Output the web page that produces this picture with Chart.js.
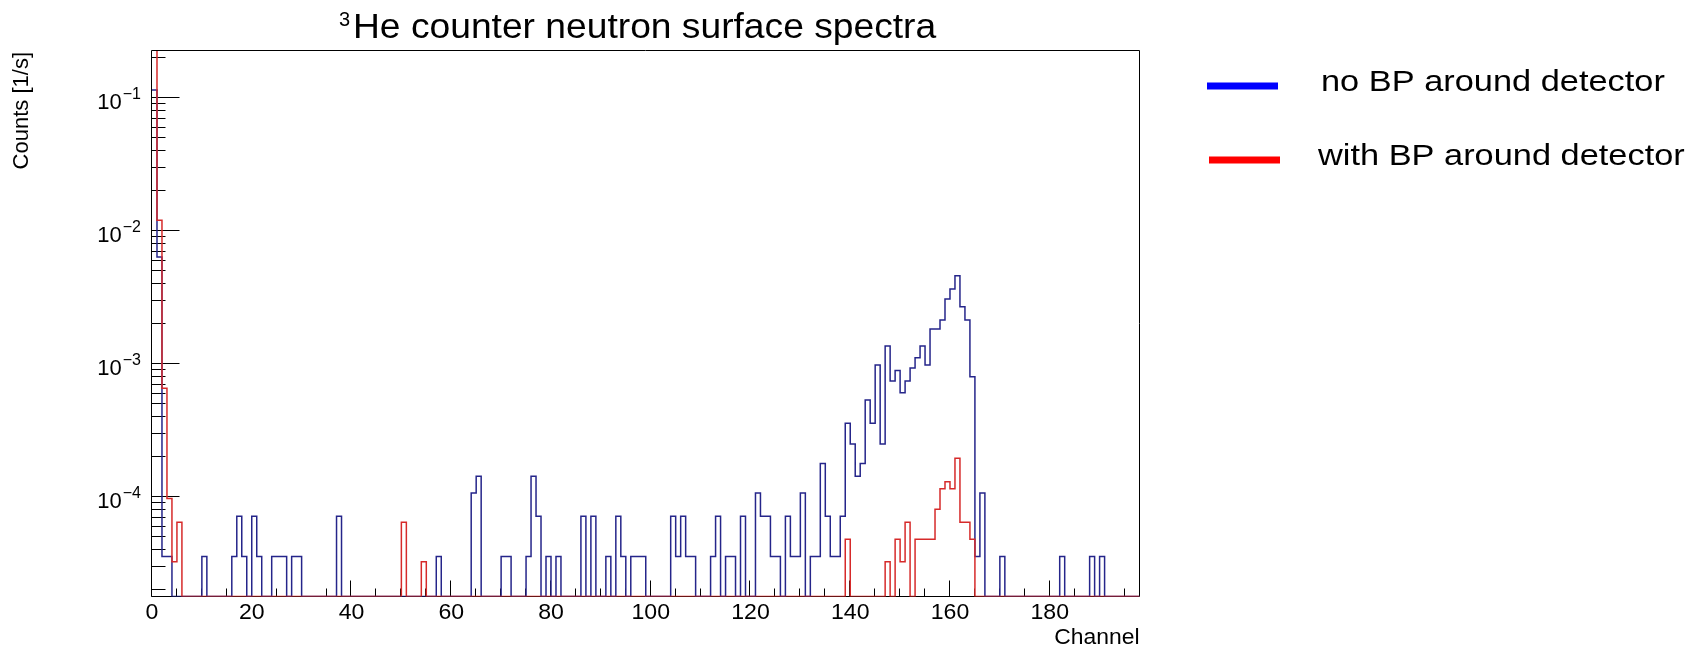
<!DOCTYPE html>
<html>
<head>
<meta charset="utf-8">
<script src="https://cdn.jsdelivr.net/npm/chart.js@4.4.1/dist/chart.umd.min.js"></script>
<style>
html,body{margin:0;padding:0;background:#ffffff;overflow:hidden}
canvas{display:block}
</style>
</head>
<body>
<canvas id="c" width="1702" height="647"></canvas>
<script>
// ---------------- DATA ----------------
// Counts [1/s] per channel bin; bin i spans channel [i, i+1]. 0 = empty bin.
const blueNoBP = [
  // 0-9
  0.115, 6.4e-3, 3.6e-5, 3.6e-5, 0, 0, 0, 0, 0, 0,
  // 10-19
  3.6e-5, 0, 0, 0, 0, 0, 3.6e-5, 7.2e-5, 3.6e-5, 0,
  // 20-29
  7.2e-5, 3.6e-5, 0, 0, 3.6e-5, 3.6e-5, 3.6e-5, 0, 3.6e-5, 3.6e-5,
  // 30-39
  0, 0, 0, 0, 0, 0, 0, 7.2e-5, 0, 0,
  // 40-49
  0, 0, 0, 0, 0, 0, 0, 0, 0, 0,
  // 50-59
  0, 0, 0, 0, 0, 0, 0, 3.6e-5, 0, 0,
  // 60-69
  0, 0, 0, 0, 1.08e-4, 1.44e-4, 0, 0, 0, 0,
  // 70-79
  3.6e-5, 3.6e-5, 0, 0, 0, 3.6e-5, 1.44e-4, 7.2e-5, 0, 3.6e-5,
  // 80-89
  0, 3.6e-5, 0, 0, 0, 0, 7.2e-5, 0, 7.2e-5, 0,
  // 90-99
  0, 3.6e-5, 0, 7.2e-5, 3.6e-5, 0, 3.6e-5, 3.6e-5, 3.6e-5, 0,
  // 100-109
  0, 0, 0, 0, 7.2e-5, 3.6e-5, 7.2e-5, 3.6e-5, 3.6e-5, 0,
  // 110-119
  0, 0, 3.6e-5, 7.2e-5, 0, 3.6e-5, 3.6e-5, 0, 7.2e-5, 0,
  // 120-129
  0, 1.08e-4, 7.2e-5, 7.2e-5, 3.6e-5, 3.6e-5, 0, 7.2e-5, 3.6e-5, 3.6e-5,
  // 130-139
  1.08e-4, 0, 3.6e-5, 3.6e-5, 1.8e-4, 7.2e-5, 3.6e-5, 3.6e-5, 7.2e-5, 3.6e-4,
  // 140-149
  2.52e-4, 1.44e-4, 1.8e-4, 5.4e-4, 3.6e-4, 9.9e-4, 2.52e-4, 1.37e-3, 7.5e-4, 9.0e-4,
  // 150-159
  6.1e-4, 7.5e-4, 9.4e-4, 1.12e-3, 1.37e-3, 9.9e-4, 1.84e-3, 1.84e-3, 2.15e-3, 3.1e-3,
  // 160-169
  3.68e-3, 4.63e-3, 2.71e-3, 2.15e-3, 8.07e-4, 3.6e-5, 1.08e-4, 0, 0, 0,
  // 170-179
  3.6e-5, 0, 0, 0, 0, 0, 0, 0, 0, 0,
  // 180-189
  0, 0, 3.6e-5, 0, 0, 0, 0, 0, 3.6e-5, 0,
  // 190-197
  3.6e-5, 0, 0, 0, 0, 0, 0, 0
];

const redWithBP = [
  // 0-9  (bin 0 runs off the top of the frame)
  0.3, 1.21e-2, 6.6e-4, 9.8e-5, 3.28e-5, 6.5e-5, 0, 0, 0, 0,
  // 10-19
  0, 0, 0, 0, 0, 0, 0, 0, 0, 0,
  // 20-29
  0, 0, 0, 0, 0, 0, 0, 0, 0, 0,
  // 30-39
  0, 0, 0, 0, 0, 0, 0, 0, 0, 0,
  // 40-49
  0, 0, 0, 0, 0, 0, 0, 0, 0, 0,
  // 50-59
  6.5e-5, 0, 0, 0, 3.28e-5, 0, 0, 0, 0, 0,
  // 60-69
  0, 0, 0, 0, 0, 0, 0, 0, 0, 0,
  // 70-79
  0, 0, 0, 0, 0, 0, 0, 0, 0, 0,
  // 80-89
  0, 0, 0, 0, 0, 0, 0, 0, 0, 0,
  // 90-99
  0, 0, 0, 0, 0, 0, 0, 0, 0, 0,
  // 100-109
  0, 0, 0, 0, 0, 0, 0, 0, 0, 0,
  // 110-119
  0, 0, 0, 0, 0, 0, 0, 0, 0, 0,
  // 120-129
  0, 0, 0, 0, 0, 0, 0, 0, 0, 0,
  // 130-139
  0, 0, 0, 0, 0, 0, 0, 0, 0, 4.84e-5,
  // 140-149
  0, 0, 0, 0, 0, 0, 0, 3.28e-5, 0, 4.84e-5,
  // 150-159
  3.28e-5, 6.5e-5, 0, 4.84e-5, 4.84e-5, 4.84e-5, 4.84e-5, 8.14e-5, 1.16e-4, 1.31e-4,
  // 160-169
  1.16e-4, 1.97e-4, 6.5e-5, 6.5e-5, 4.84e-5, 0, 0, 0, 0, 0,
  // 170-179
  0, 0, 0, 0, 0, 0, 0, 0, 0, 0,
  // 180-189
  0, 0, 0, 0, 0, 0, 0, 0, 0, 0,
  // 190-197
  0, 0, 0, 0, 0, 0, 0, 0
];

const seriesLabels = ['no BP around detector', 'with BP around detector'];
const xTickLabels = [0, 20, 40, 60, 80, 100, 120, 140, 160, 180];
const yDecadeExponents = [-4, -3, -2, -1];
const titleSup = '3';
const titleMain = 'He counter neutron surface spectra';
const xTitle = 'Channel';
const yTitle = 'Counts [1/s]';

// axis range
const X_MIN = 0, X_MAX = 198;
const Y_MIN = 1.8e-5, Y_MAX = 0.226;

// ---------------- styling ----------------
const FONT = '"Liberation Sans", Arial, Helvetica, sans-serif';
const BLUE_LINE = '#25258a';
const RED_LINE = '#d62a2a';
const BLUE_LEG = '#0000ff';
const RED_LEG = '#ff0000';

function histPoints(vals) {
  const pts = vals.map((v, i) => ({ x: i, y: v > 0 ? v : Y_MIN }));
  pts.push({ x: vals.length, y: Y_MIN });
  return pts;
}

function drawText(ctx, txt, x, y, size, align, sx) {
  ctx.save();
  ctx.font = size + 'px ' + FONT;
  ctx.textAlign = align;
  ctx.textBaseline = 'alphabetic';
  ctx.fillStyle = '#000';
  ctx.translate(x, y);
  ctx.scale(sx || 1, 1);
  ctx.fillText(txt, 0, 0);
  ctx.restore();
}

const rootAxes = {
  id: 'rootAxes',
  beforeDatasetsDraw(chart) {
    const { ctx, chartArea: a, scales } = chart;
    const xs = scales.x, ys = scales.y;
    ctx.save();
    ctx.strokeStyle = '#000';
    ctx.lineWidth = 1;
    const L = Math.round(a.left) - 0.5, R = Math.round(a.right) - 0.5;
    const T = Math.round(a.top) - 0.5, B = Math.round(a.bottom) - 0.5;
    ctx.beginPath();
    ctx.rect(L, T, R - L, B - T);
    ctx.stroke();
    // y ticks (log), drawn inward
    ctx.beginPath();
    for (let e = -5; e <= 0; e++) {
      for (let m = 1; m <= 9; m++) {
        const v = m * Math.pow(10, e);
        if (v < Y_MIN || v > Y_MAX) continue;
        const py = Math.round(ys.getPixelForValue(v)) - 0.5;
        const len = m === 1 ? 28 : 14;
        ctx.moveTo(L, py);
        ctx.lineTo(L + len, py);
      }
    }
    // x ticks every 5 channels, major every 20
    for (let c = 0; c <= X_MAX; c += 5) {
      const px = Math.round(xs.getPixelForValue(c)) - 0.5;
      const len = c % 20 === 0 ? 16 : 8;
      ctx.moveTo(px, B);
      ctx.lineTo(px, B - len);
    }
    ctx.stroke();
    ctx.restore();
  },
  afterDraw(chart) {
    const { ctx, chartArea: a, scales } = chart;
    const xs = scales.x, ys = scales.y;
    // title
    drawText(ctx, titleSup, 339, 26, 20, 'left', 1.0);
    drawText(ctx, titleMain, 353, 37.5, 35, 'left', 1.063);
    // x tick labels
    xTickLabels.forEach(v => {
      drawText(ctx, String(v), xs.getPixelForValue(v), 619, 22, 'center', 1.05);
    });
    // y decade labels 10^e
    yDecadeExponents.forEach(e => {
      const py = ys.getPixelForValue(Math.pow(10, e));
      const expTxt = '\u2212' + Math.abs(e);
      ctx.save();
      ctx.font = '16px ' + FONT;
      const ew = ctx.measureText(expTxt).width;
      ctx.restore();
      drawText(ctx, expTxt, 141, py + 1, 16, 'right', 1);
      drawText(ctx, '10', 141 - ew - 1, py + 11, 22, 'right', 1);
    });
    // axis titles
    drawText(ctx, xTitle, a.right, 644, 22, 'right', 1.04);
    ctx.save();
    ctx.translate(22, 52);
    ctx.rotate(-Math.PI / 2);
    ctx.font = '22px ' + FONT;
    ctx.fillStyle = '#000';
    ctx.textAlign = 'right';
    ctx.textBaseline = 'middle';
    ctx.fillText(yTitle, 0, 0);
    ctx.restore();
    // legend
    ctx.save();
    ctx.fillStyle = BLUE_LEG;
    ctx.fillRect(1207, 82.5, 71, 7);
    ctx.fillStyle = RED_LEG;
    ctx.fillRect(1209, 156.5, 71, 7);
    ctx.restore();
    drawText(ctx, seriesLabels[0], 1321, 90.5, 29, 'left', 1.185);
    drawText(ctx, seriesLabels[1], 1318, 165, 29, 'left', 1.185);
  }
};

new Chart(document.getElementById('c'), {
  type: 'line',
  data: {
    datasets: [
      {
        label: seriesLabels[0],
        data: histPoints(blueNoBP),
        borderColor: BLUE_LINE,
        borderWidth: 1.5,
        stepped: 'before',
        pointRadius: 0,
        fill: false,
        order: 1
      },
      {
        label: seriesLabels[1],
        data: histPoints(redWithBP),
        borderColor: RED_LINE,
        borderWidth: 1.5,
        stepped: 'before',
        pointRadius: 0,
        fill: false,
        order: 0
      }
    ]
  },
  options: {
    responsive: false,
    devicePixelRatio: 1,
    animation: false,
    layout: { padding: { left: 152, right: 562.5, top: 51, bottom: 50.5 } },
    plugins: { legend: { display: false }, tooltip: { enabled: false }, title: { display: false } },
    events: [],
    scales: {
      x: { type: 'linear', min: X_MIN, max: X_MAX, display: false },
      y: { type: 'logarithmic', min: Y_MIN, max: Y_MAX, display: false }
    }
  },
  plugins: [rootAxes]
});
</script>
</body>
</html>
